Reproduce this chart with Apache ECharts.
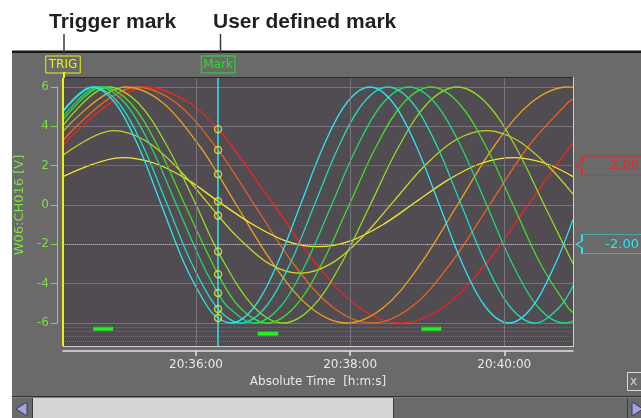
<!DOCTYPE html>
<html>
<head>
<meta charset="utf-8">
<script src="https://cdn.jsdelivr.net/npm/echarts@6/dist/echarts.min.js"></script>
<style>
  html, body { margin: 0; padding: 0; background: #ffffff; }
  #chart { width: 641px; height: 418px; }
</style>
</head>
<body>
<div id="chart"></div>
<script>
// ---- time base: seconds after 20:34:00 ----
const triggerTime = 16.5;     // TRIG position (left edge of the record)
const endTime = 413.5;        // right edge of the display window
const markTime = 137.2;       // user defined mark
const xTickValues = [120, 240, 360];
const xTickLabels = ['20:36:00', '20:38:00', '20:40:00'];
const yTickValues = [-6, -4, -2, 0, 2, 4, 6];

// level cursors shown at the right edge
const cursorLevels = [2, -2];
const cursorLabels = ['2.00', '-2.00'];

// logic channel baselines under the analog area
const logicRows = [-6.2, -6.41, -6.66, -6.92];

// logic events (start, end, level)
const eventStart = [40, 168, 295.5];
const eventEnd = [55.5, 184, 311];
const eventLevel = [-6.29, -6.54, -6.29];

// ---- analog traces: sample times [s] and values [V] ----
const cyanT = [16.5, 39.0, 57.0, 75.1, 93.1, 111.1, 129.2, 137.2, 147.2, 165.2, 183.3, 201.3, 219.3, 237.4, 255.4, 273.4, 291.5, 309.5, 327.5, 345.6, 363.6, 381.6, 399.7, 413.5];
const cyanV = [4.78, 6, 5.2, 3, 0, -3, -5.2, -5.75, -6, -5.2, -3, 0, 3, 5.2, 6, 5.2, 3, 0, -3, -5.2, -6, -5.2, -3, -0.73];

const tealT = [16.5, 40.6, 59.7, 78.7, 97.8, 116.9, 137.2, 155.0, 174.1, 193.2, 212.2, 231.3, 250.4, 269.4, 288.5, 307.6, 326.6, 345.7, 364.8, 383.8, 402.9, 413.5];
const tealV = [4.74, 6, 5.2, 3, 0, -3, -5.29, -6, -5.2, -3, 0, 3, 5.2, 6, 5.2, 3, 0, -3, -5.2, -6, -5.2, -4.11];

const jadeT = [16.5, 44.5, 64.6, 84.7, 104.9, 125.0, 137.2, 145.1, 165.2, 185.3, 205.4, 225.6, 245.7, 265.8, 285.9, 306.0, 326.1, 346.3, 366.4, 386.5, 406.6, 413.5];
const jadeV = [4.49, 6, 5.2, 3, 0, -3, -4.48, -5.2, -6, -5.2, -3, 0, 3, 5.2, 6, 5.2, 3, 0, -3, -5.2, -6, -5.9];

const greenT = [16.5, 47.6, 68.9, 90.2, 111.5, 137.2, 154.0, 175.3, 196.6, 217.9, 239.2, 260.5, 281.7, 303.0, 324.3, 345.6, 366.9, 388.2, 409.5, 413.5];
const greenV = [4.33, 6, 5.2, 3, 0, -3.52, -5.2, -6, -5.2, -3, 0, 3, 5.2, 6, 5.2, 3, 0, -3, -5.2, -5.47];

const limeT = [16.5, 52.3, 74.9, 97.5, 120.1, 137.2, 165.2, 187.8, 210.4, 233.0, 255.6, 278.1, 300.7, 323.3, 345.9, 368.5, 391.1, 413.5];
const limeV = [4.05, 6, 5.2, 3, 0, -2.37, -5.2, -6, -5.2, -3, 0, 3, 5.2, 6, 5.2, 3, 0, -2.98];

const oliveT = [16.5, 56.0, 80.2, 104.3, 128.5, 137.2, 152.7, 176.8, 201.0, 225.2, 249.3, 273.5, 297.7, 321.8, 346.0, 370.2, 394.3, 413.5];
const oliveV = [2.53, 3.78, 3.29, 1.97, 0.16, -0.54, -1.65, -2.98, -3.47, -2.98, -1.65, 0.16, 1.97, 3.29, 3.78, 3.29, 1.97, 0.55];

const yellowT = [16.5, 63.0, 88.3, 113.7, 137.2, 164.3, 189.7, 215.0, 240.3, 265.7, 291.0, 316.3, 341.7, 367.0, 392.3, 413.5];
const yellowV = [1.44, 2.41, 2.11, 1.28, 0.19, -0.99, -1.82, -2.12, -1.82, -0.99, 0.15, 1.28, 2.11, 2.41, 2.11, 1.44];

const amberT = [16.5, 65.5, 94.2, 122.8, 137.2, 151.5, 180.2, 208.8, 237.5, 266.2, 294.8, 323.5, 352.2, 380.8, 409.5, 413.5];
const amberV = [3.75, 6, 5.2, 3, 1.56, 0, -3, -5.2, -6, -5.2, -3, 0, 3, 5.2, 6, 5.99];

const orangeT = [16.5, 74.1, 104.6, 137.2, 165.6, 196.0, 226.5, 257.0, 287.5, 318.0, 348.5, 379.0, 409.4, 413.5];
const orangeV = [3.29, 6, 5.2, 2.80, 0, -3, -5.2, -6, -5.2, -3, 0, 3, 5.2, 5.39];

const redT = [16.5, 81.9, 114.9, 137.2, 147.8, 180.8, 213.7, 246.7, 279.6, 312.6, 345.5, 378.5, 411.4, 413.5];
const redV = [3.04, 6, 5.2, 3.85, 3, 0, -3, -5.2, -6, -5.2, -3, 0, 3, 3.17];

const traces = [
  { name: 'red',    t: redT,    v: redV,    color: '#f02424' },
  { name: 'orange', t: orangeT, v: orangeV, color: '#e8641e' },
  { name: 'amber',  t: amberT,  v: amberV,  color: '#e6a41e' },
  { name: 'yellow', t: yellowT, v: yellowV, color: '#f2ea2c' },
  { name: 'olive',  t: oliveT,  v: oliveV,  color: '#c4d42a' },
  { name: 'lime',   t: limeT,   v: limeV,   color: '#90dc22' },
  { name: 'green',  t: greenT,  v: greenV,  color: '#44dc28' },
  { name: 'jade',   t: jadeT,   v: jadeV,   color: '#22d874' },
  { name: 'teal',   t: tealT,   v: tealV,   color: '#22dcb8' },
  { name: 'cyan',   t: cyanT,   v: cyanV,   color: '#2ee4ee' }
];

// ---- layout ----
const FONT = 'DejaVu Sans, Verdana, sans-serif';
const TITLE_FONT = 'Liberation Sans, Arial, sans-serif';
const PLOT = { left: 63, top: 78, width: 510, height: 268 };
const ANALOG = { top: 87, height: 236 };          // span of -6 .. 6 V
const pxPerVolt = ANALOG.height / 12;
const yTop = 6 + (ANALOG.top - PLOT.top) / pxPerVolt;
const yBottom = -6 - ((PLOT.top + PLOT.height) - (ANALOG.top + ANALOG.height)) / pxPerVolt;

const GREEN_AXIS = '#7ede42';
const GRID_LINE = '#78747c';
const cursorColors = ['#f02424', '#2ee4ee'];

// values under the mark, taken from the traces themselves
const markPoints = traces.map(tr => [markTime, tr.v[tr.t.indexOf(markTime)]]);

const chart = echarts.init(document.getElementById('chart'), null, { renderer: 'canvas' });

const traceSeries = traces.map(tr => ({
  name: tr.name,
  type: 'line',
  xAxisIndex: 0, yAxisIndex: 0,
  data: tr.t.map((t, i) => [t, tr.v[i]]),
  smooth: 0.35,
  symbol: 'none',
  showSymbol: false,
  silent: true,
  z: 2,
  lineStyle: { color: tr.color, width: 1.3 },
  itemStyle: { color: tr.color }
}));

const boxPath = 'path://M6,0 L72,0 L72,19 L6,19 L6,13 L0,9.5 L6,6 Z';

const option = {
  animation: false,
  backgroundColor: '#ffffff',
  textStyle: { fontFamily: FONT },
  grid: [
    { left: PLOT.left, top: PLOT.top, width: PLOT.width, height: PLOT.height,
      show: true, backgroundColor: '#514b52', borderWidth: 0 },
    { left: PLOT.left, top: ANALOG.top, width: PLOT.width, height: ANALOG.height,
      show: false }
  ],
  xAxis: [
    {
      gridIndex: 0, type: 'value', min: triggerTime, max: endTime,
      position: 'bottom', offset: 5,
      axisLine: { show: true, onZero: false, lineStyle: { color: '#e4e4e4', width: 1.5 } },
      axisTick: { show: true, customValues: xTickValues, length: 5, lineStyle: { color: '#e4e4e4', width: 1.5 } },
      axisLabel: {
        show: true, customValues: xTickValues,
        formatter: v => xTickLabels[xTickValues.indexOf(v)],
        color: '#e8e8e8', fontSize: 12, fontFamily: FONT, margin: 8
      },
      splitLine: { show: false },
      name: 'Absolute Time  [h:m:s]', nameLocation: 'middle', nameGap: 25,
      nameTextStyle: { color: '#e8e8e8', fontSize: 12, fontFamily: FONT }
    },
    { gridIndex: 1, type: 'value', min: triggerTime, max: endTime, show: false,
      axisLine: { onZero: false } }
  ],
  yAxis: [
    { gridIndex: 0, type: 'value', min: yBottom, max: yTop, show: false },
    {
      gridIndex: 1, type: 'value', min: -6, max: 6, interval: 2,
      position: 'left', offset: 6,
      axisLine: { show: true, onZero: false, lineStyle: { color: GREEN_AXIS, width: 1 } },
      axisTick: { show: true, length: 6, lineStyle: { color: GREEN_AXIS } },
      axisLabel: { color: GREEN_AXIS, fontSize: 12, fontFamily: FONT, margin: 8 },
      splitLine: { show: true, lineStyle: { color: GRID_LINE, width: 1 } },
      name: 'W06:CH016 [V]', nameLocation: 'middle', nameRotate: 90, nameGap: 30,
      nameTextStyle: { color: GREEN_AXIS, fontSize: 13, fontFamily: FONT }
    }
  ],
  series: [
    // time grid, logic baselines and level cursors (below the traces)
    {
      type: 'line', xAxisIndex: 0, yAxisIndex: 0, data: [], z: 1, silent: true,
      markLine: {
        silent: true, symbol: ['none', 'none'], animation: false,
        label: { show: false },
        data: [
          ...xTickValues.map(v => ({ xAxis: v, lineStyle: { color: GRID_LINE, width: 1, type: 'solid' } })),
          ...logicRows.map(v => ({ yAxis: v, lineStyle: { color: '#6f6a72', width: 1, type: 'dotted' } })),
          ...cursorLevels.map((v, i) => ({ yAxis: v, lineStyle: { color: cursorColors[i], width: 1, type: 'dotted' } }))
        ]
      },
      markPoint: {
        silent: true, animation: false,
        symbol: boxPath, symbolSize: [72, 19], symbolOffset: [39, 0],
        data: cursorLevels.map((v, i) => ({
          coord: [endTime, v],
          itemStyle: { color: '#6a6a6a', borderColor: cursorColors[i], borderWidth: 1 },
          label: {
            show: true, position: 'insideRight', distance: 10,
            formatter: cursorLabels[i], color: cursorColors[i], fontSize: 13, fontFamily: FONT
          }
        }))
      }
    },
    ...traceSeries,
    // logic events
    {
      type: 'custom', xAxisIndex: 0, yAxisIndex: 0, z: 3, silent: true,
      data: eventStart.map((s, i) => [s, eventEnd[i], eventLevel[i]]),
      encode: { x: [0, 1], y: 2 },
      renderItem: (params, api) => {
        const a = api.coord([api.value(0), api.value(2)]);
        const b = api.coord([api.value(1), api.value(2)]);
        return { type: 'rect', shape: { x: a[0], y: a[1] - 2, width: b[0] - a[0], height: 4 },
                 style: { fill: '#22f022' } };
      }
    },
    // trigger and user mark
    {
      type: 'line', xAxisIndex: 0, yAxisIndex: 0, data: [], z: 4, silent: true,
      markLine: {
        silent: true, symbol: ['none', 'none'], animation: false,
        data: [
          { xAxis: markTime, lineStyle: { color: '#30e4ec', width: 1.5, type: 'solid' },
            label: { show: true, position: 'end', formatter: 'Mark', distance: 5,
                     color: '#22e622', fontSize: 12, fontFamily: FONT,
                     borderColor: '#22e622', borderWidth: 1, padding: [3, 2, 2, 2] } },
          { xAxis: triggerTime, lineStyle: { color: '#f0f010', width: 2, type: 'solid' },
            label: { show: true, position: 'end', formatter: 'TRIG', distance: 5,
                     color: '#f0f010', fontSize: 12, fontFamily: FONT,
                     borderColor: '#f0f010', borderWidth: 1, padding: [3, 3, 2, 3] } }
        ]
      }
    },
    // values under the mark
    {
      type: 'scatter', xAxisIndex: 0, yAxisIndex: 0, z: 5, silent: true,
      data: markPoints, symbol: 'circle', symbolSize: 7,
      itemStyle: { color: 'rgba(0,0,0,0)', borderColor: '#ece62a', borderWidth: 1.5 }
    }
  ],
  graphic: [
    // instrument panel
    { type: 'rect', z: -20, shape: { x: 12, y: 52, width: 629, height: 345 }, style: { fill: '#6a6a6a' } },
    { type: 'rect', z: -19, shape: { x: 12, y: 50.5, width: 629, height: 2.5 }, style: { fill: '#171717' } },
    // plot frame
    { type: 'line', z: 50, shape: { x1: 63, y1: 77.5, x2: 574, y2: 77.5 }, style: { stroke: '#2a2a2a', lineWidth: 1 } },
    { type: 'line', z: 50, shape: { x1: 573.5, y1: 77, x2: 573.5, y2: 347 }, style: { stroke: '#cfcfcf', lineWidth: 1 } },
    { type: 'line', z: 50, shape: { x1: 63, y1: 346.5, x2: 574, y2: 346.5 }, style: { stroke: '#cfcfcf', lineWidth: 1 } },
    // trigger line continues up to its tag
    { type: 'line', z: 50, shape: { x1: 64, y1: 72, x2: 64, y2: 78 }, style: { stroke: '#f0f010', lineWidth: 2 } },
    // close box
    { type: 'rect', z: 50, shape: { x: 627.5, y: 372.5, width: 14, height: 18 }, style: { fill: 'none', stroke: '#d8d8d8', lineWidth: 1 } },
    { type: 'text', z: 50, style: { x: 630, y: 382, text: 'x', fill: '#d8d8d8', font: '12px ' + FONT, textVerticalAlign: 'middle' } },
    // scroll bar
    { type: 'rect', z: 50, shape: { x: 12, y: 396, width: 629, height: 1.5 }, style: { fill: '#2e2e2e' } },
    { type: 'rect', z: 50, shape: { x: 12, y: 397.5, width: 629, height: 21 }, style: { fill: '#6a6a6a' } },
    { type: 'rect', z: 51, shape: { x: 33, y: 398, width: 360, height: 21 }, style: { fill: '#d5d5d5' } },
    { type: 'line', z: 51, shape: { x1: 393.5, y1: 398, x2: 393.5, y2: 418 }, style: { stroke: '#3a3a3a', lineWidth: 1 } },
    { type: 'line', z: 51, shape: { x1: 32.5, y1: 398, x2: 32.5, y2: 418 }, style: { stroke: '#3a3a3a', lineWidth: 1 } },
    { type: 'line', z: 51, shape: { x1: 627.5, y1: 398, x2: 627.5, y2: 418 }, style: { stroke: '#3a3a3a', lineWidth: 1 } },
    { type: 'polygon', z: 52, shape: { points: [[27, 402], [27, 416], [16, 409]] }, style: { fill: '#a4a4e4', stroke: '#3c3c5c', lineWidth: 1 } },
    { type: 'polygon', z: 52, shape: { points: [[632, 402], [632, 416], [643, 409]] }, style: { fill: '#a4a4e4', stroke: '#3c3c5c', lineWidth: 1 } },
    // callouts
    { type: 'text', z: 60, style: { x: 49, y: 22, text: 'Trigger mark', fill: '#231f20', font: 'bold 21px ' + TITLE_FONT, textVerticalAlign: 'middle' } },
    { type: 'line', z: 60, shape: { x1: 64, y1: 34, x2: 64, y2: 54 }, style: { stroke: '#3a3a3a', lineWidth: 1.5 } },
    { type: 'text', z: 60, style: { x: 213, y: 22, text: 'User defined mark', fill: '#231f20', font: 'bold 21px ' + TITLE_FONT, textVerticalAlign: 'middle' } },
    { type: 'line', z: 60, shape: { x1: 220.5, y1: 34, x2: 220.5, y2: 54 }, style: { stroke: '#3a3a3a', lineWidth: 1.5 } }
  ]
};

chart.setOption(option);
</script>
</body>
</html>
